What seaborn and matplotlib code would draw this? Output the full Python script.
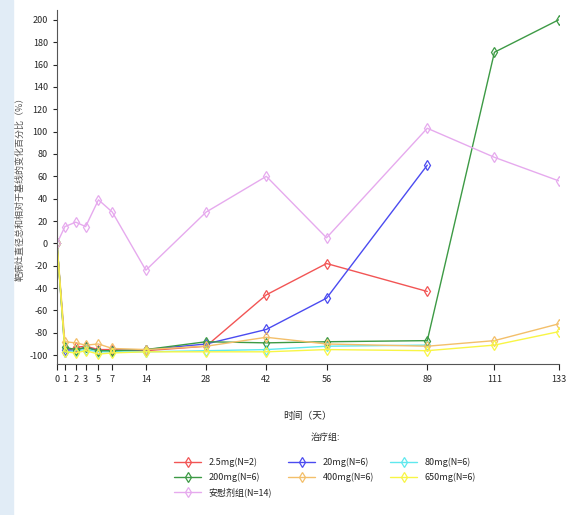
import numpy as np
import pandas as pd
import matplotlib
matplotlib.use("Agg")
import matplotlib.pyplot as plt
import seaborn as sns

# --- data ---
days = [0, 1, 2, 3, 5, 7, 14, 28, 42, 56, 89, 111, 133]
tick_labels = ["0", "1", "2", "3", "5", "7", "14", "28", "42", "56", "89", "111", "133"]
# pixel spacing of the original (non-uniform) time axis
tick_pos = [0, 8, 19, 29, 42, 56, 90, 151, 212, 273, 375, 443, 508]

dose_2_5 = [0, -97, -93, -92, -95, -95, -96, -92, -46, -18, -43]
dose_20 = [0, -95, -96, -93, -96, -96, -95, -90, -77, -49, 70]
dose_80 = [0, -97, -96, -95, -97, -97, -97, -96, -95, -92, -91]
dose_200 = [0, -93, -95, -93, -96, -96, -95, -88, -89, -88, -87, 171, 200]
dose_400 = [0, -88, -89, -91, -90, -94, -95, -92, -84, -90, -92, -87, -72]
dose_650 = [0, -97, -98, -96, -99, -98, -97, -97, -97, -95, -96, -91, -79]
placebo = [0, 15, 19, 15, 39, 28, -24, 28, 60, 5, 103, 77, 56]

labels = ["2.5mg(N=2)", "20mg(N=6)", "80mg(N=6)", "200mg(N=6)",
          "400mg(N=6)", "650mg(N=6)", "安慰剂组(N=14)"]
series = [dose_2_5, dose_20, dose_80, dose_200, dose_400, dose_650, placebo]
colors = ["#f25555", "#4b4bf0", "#5fe8ee", "#3d9a45", "#f3bf6a", "#f8f545", "#e6aaee"]

sns.set_style("ticks")
plt.rcParams['font.family'] = ['Noto Sans CJK SC', 'DejaVu Sans']
plt.rcParams['axes.unicode_minus'] = False

fig = plt.figure(figsize=(5.7, 5.15), dpi=100)
# light blue strip on the left edge
fig.patches.append(plt.Rectangle((0, 0), 0.022, 1, transform=fig.transFigure,
                                 color="#e1ecf6", zorder=0))
ax = fig.add_axes([0.1, 0.293, 0.88, 0.688])


def fwd(x):
    return np.interp(x, days, tick_pos)


def inv(x):
    return np.interp(x, tick_pos, days)


ax.set_xscale('function', functions=(fwd, inv))

for vals, lab, col in zip(series, labels, colors):
    sns.lineplot(x=days[:len(vals)], y=vals, ax=ax, color=col, lw=1.0,
                 marker='d', markersize=5.5, markerfacecolor='none',
                 markeredgecolor=col, markeredgewidth=0.9, label=lab)

ax.set_xlim(-0.3, 133.3)
ax.set_ylim(-108, 209)
ax.set_xticks(days)
ax.set_xticklabels(tick_labels, fontsize=6.5)
ax.set_yticks(np.arange(-100, 201, 20))
ax.tick_params(axis='y', labelsize=6.5, length=3, width=0.8)
ax.tick_params(axis='x', length=4, width=0.8)
ax.set_xlabel("时间（天）", fontsize=7, labelpad=20)
ax.set_ylabel("靶病灶直径总和相对于基线的变化百分比（%）", fontsize=6.5, color="#555555")
sns.despine(ax=ax)
for s in ["left", "bottom"]:
    ax.spines[s].set_color("#555555")

handles, labs = ax.get_legend_handles_labels()
ax.get_legend().remove()
order = [0, 3, 6, 1, 4, 2, 5]
fig.legend([handles[i] for i in order], [labs[i] for i in order],
           loc='upper center', bbox_to_anchor=(0.57, 0.175), ncol=3,
           frameon=False, fontsize=6.5, title="治疗组:\n", title_fontsize=6.5,
           handlelength=3, columnspacing=1.8, labelspacing=0.6)

fig.savefig("out.png", dpi=100)
